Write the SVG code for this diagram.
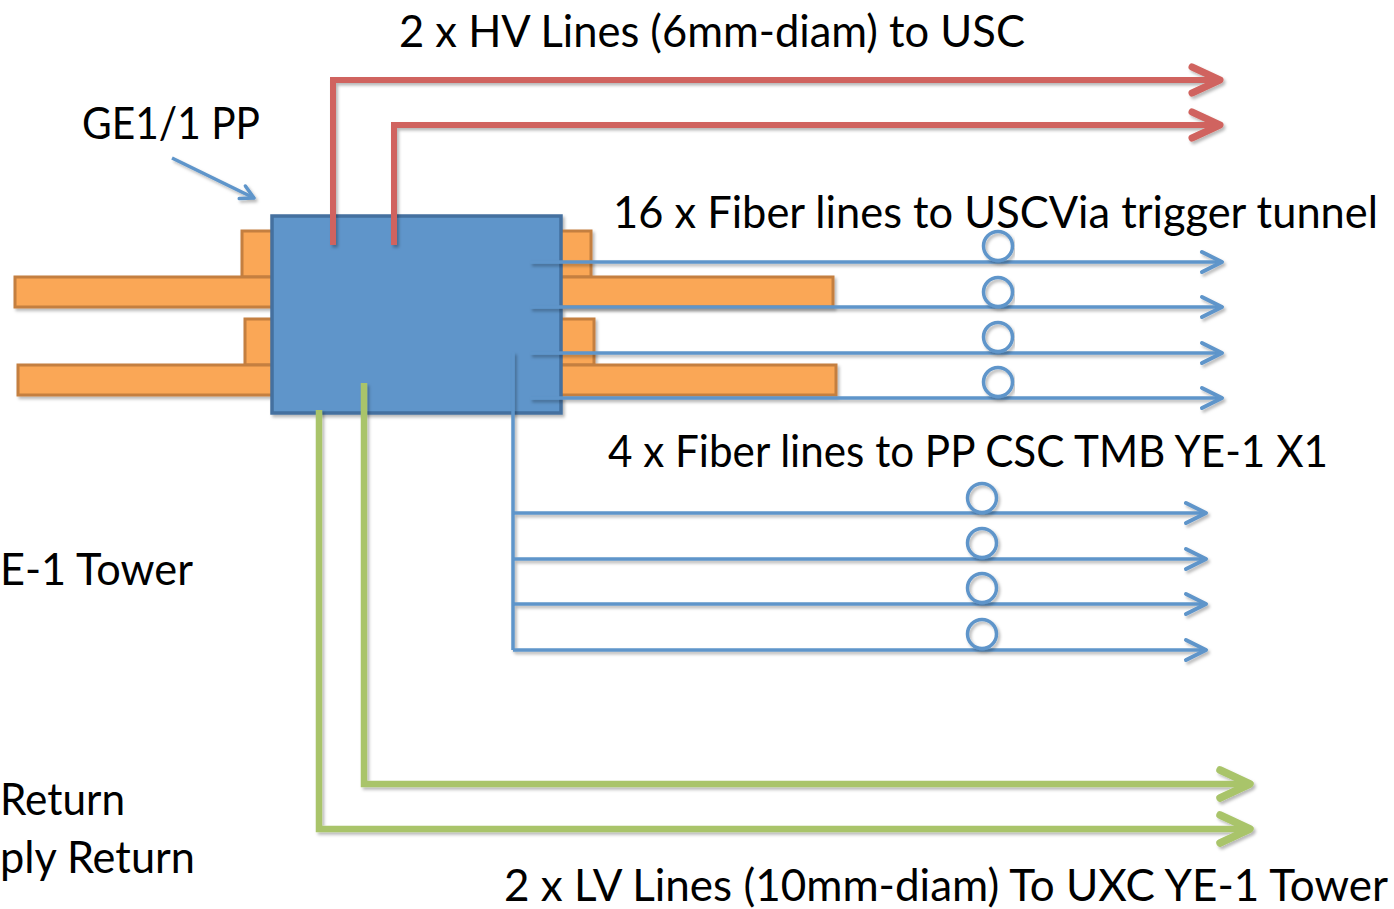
<svg xmlns="http://www.w3.org/2000/svg" width="1394" height="909" viewBox="0 0 1394 909">
  <style>
    .lbl { font-family: Lato, "Open Sans", "Liberation Sans", sans-serif; font-size: 44px; fill: #000; }
    .orange { fill: #FAA757; stroke: #C47F3F; stroke-width: 3; }
    .box { fill: #5E95CA; stroke: #44709F; stroke-width: 3.5; }
    .red { fill: none; stroke: #D0645F; stroke-width: 6; stroke-linejoin: miter; }
    .blue { fill: none; stroke: #5E95CA; stroke-width: 3.5; }
    .green { fill: none; stroke: #A9C46B; stroke-width: 6.5; stroke-linejoin: miter; }
    .ring { fill: none; stroke: #5E95CA; stroke-width: 3.5; }
  </style>
  <defs>
    <filter id="sh" x="-5%" y="-5%" width="110%" height="110%">
      <feDropShadow dx="2" dy="2.5" stdDeviation="1.5" flood-color="#000" flood-opacity="0.28"/>
    </filter>
    <marker id="ahRed" markerUnits="userSpaceOnUse" viewBox="-40 -20 50 40" refX="0" refY="0" markerWidth="50" markerHeight="40" orient="auto" overflow="visible">
      <path d="M-28,-13 L0,0 L-28,13" fill="none" stroke="#D0645F" stroke-width="7" stroke-linecap="round" stroke-linejoin="round"/>
    </marker>
    <marker id="ahBlue" markerUnits="userSpaceOnUse" viewBox="-40 -20 50 40" refX="0" refY="0" markerWidth="50" markerHeight="40" orient="auto" overflow="visible">
      <path d="M-20,-10 L0,0 L-20,10" fill="none" stroke="#5E95CA" stroke-width="4" stroke-linecap="round" stroke-linejoin="round"/>
    </marker>
    <marker id="ahGreen" markerUnits="userSpaceOnUse" viewBox="-40 -20 50 40" refX="0" refY="0" markerWidth="50" markerHeight="40" orient="auto" overflow="visible">
      <path d="M-30,-14 L0,0 L-30,14" fill="none" stroke="#A9C46B" stroke-width="7.5" stroke-linecap="round" stroke-linejoin="round"/>
    </marker>
    <marker id="ahSmall" markerUnits="userSpaceOnUse" viewBox="-20 -10 30 20" refX="0" refY="0" markerWidth="30" markerHeight="20" orient="auto" overflow="visible">
      <path d="M-13,-7 L0,0 L-13,7" fill="none" stroke="#5E95CA" stroke-width="3.5" stroke-linecap="round" stroke-linejoin="round"/>
    </marker>
  </defs>
  <rect width="1394" height="909" fill="#fff"/>

  <g id="pp" filter="url(#sh)">
    <rect class="orange" x="242" y="231" width="349" height="46"/>
    <rect class="orange" x="15" y="277" width="818" height="30"/>
    <rect class="orange" x="245" y="319" width="349" height="46"/>
    <rect class="orange" x="18" y="365" width="818" height="30"/>
    <rect class="box" x="272" y="216" width="289" height="197"/>
  </g>

  <g id="connectors" filter="url(#sh)">
    <path class="red" d="M333,245 V80 H1220" marker-end="url(#ahRed)"/>
    <path class="red" d="M394,245 V125 H1220" marker-end="url(#ahRed)"/>

    <path class="blue" d="M530,262 H1222" marker-end="url(#ahBlue)"/>
    <path class="blue" d="M530,307 H1222" marker-end="url(#ahBlue)"/>
    <path class="blue" d="M530,353 H1222" marker-end="url(#ahBlue)"/>
    <path class="blue" d="M530,398 H1222" marker-end="url(#ahBlue)"/>

    <path class="blue" d="M513,352 V650"/>
    <path class="blue" d="M513,513 H1206" marker-end="url(#ahBlue)"/>
    <path class="blue" d="M513,559 H1206" marker-end="url(#ahBlue)"/>
    <path class="blue" d="M513,604 H1206" marker-end="url(#ahBlue)"/>
    <path class="blue" d="M513,650 H1206" marker-end="url(#ahBlue)"/>

    <path class="green" d="M364,383 V784 H1250" marker-end="url(#ahGreen)"/>
    <path class="green" d="M319,410 V829 H1250" marker-end="url(#ahGreen)"/>

    <path class="blue" d="M172,158 L254,198" stroke-width="2" marker-end="url(#ahSmall)"/>
  </g>

  <g id="fiber-rings" filter="url(#sh)">
    <circle class="ring" cx="998" cy="246" r="14.5"/>
    <circle class="ring" cx="998" cy="292" r="14.5"/>
    <circle class="ring" cx="998" cy="337" r="14.5"/>
    <circle class="ring" cx="998" cy="382" r="14.5"/>
    <circle class="ring" cx="982" cy="498" r="14.5"/>
    <circle class="ring" cx="982" cy="543" r="14.5"/>
    <circle class="ring" cx="982" cy="588" r="14.5"/>
    <circle class="ring" cx="982" cy="634" r="14.5"/>
  </g>

  <g id="labels">
    <text class="lbl" x="399" y="47" textLength="626" lengthAdjust="spacingAndGlyphs">2 x HV Lines (6mm-diam) to USC</text>
    <text class="lbl" x="82" y="139" textLength="178" lengthAdjust="spacingAndGlyphs">GE1/1 PP</text>
    <text class="lbl" x="613" y="228" textLength="765" lengthAdjust="spacingAndGlyphs">16 x Fiber lines to USCVia trigger tunnel</text>
    <text class="lbl" x="608" y="467" textLength="720" lengthAdjust="spacingAndGlyphs">4 x Fiber lines to PP CSC TMB YE-1 X1</text>
    <text class="lbl" x="0" y="585" textLength="193" lengthAdjust="spacingAndGlyphs">E-1 Tower</text>
    <text class="lbl" x="0" y="815" textLength="125" lengthAdjust="spacingAndGlyphs">Return</text>
    <text class="lbl" x="0" y="873" textLength="195" lengthAdjust="spacingAndGlyphs">ply Return</text>
    <text class="lbl" x="504" y="901" textLength="884" lengthAdjust="spacingAndGlyphs">2 x LV Lines (10mm-diam) To UXC YE-1 Tower</text>
  </g>
</svg>
